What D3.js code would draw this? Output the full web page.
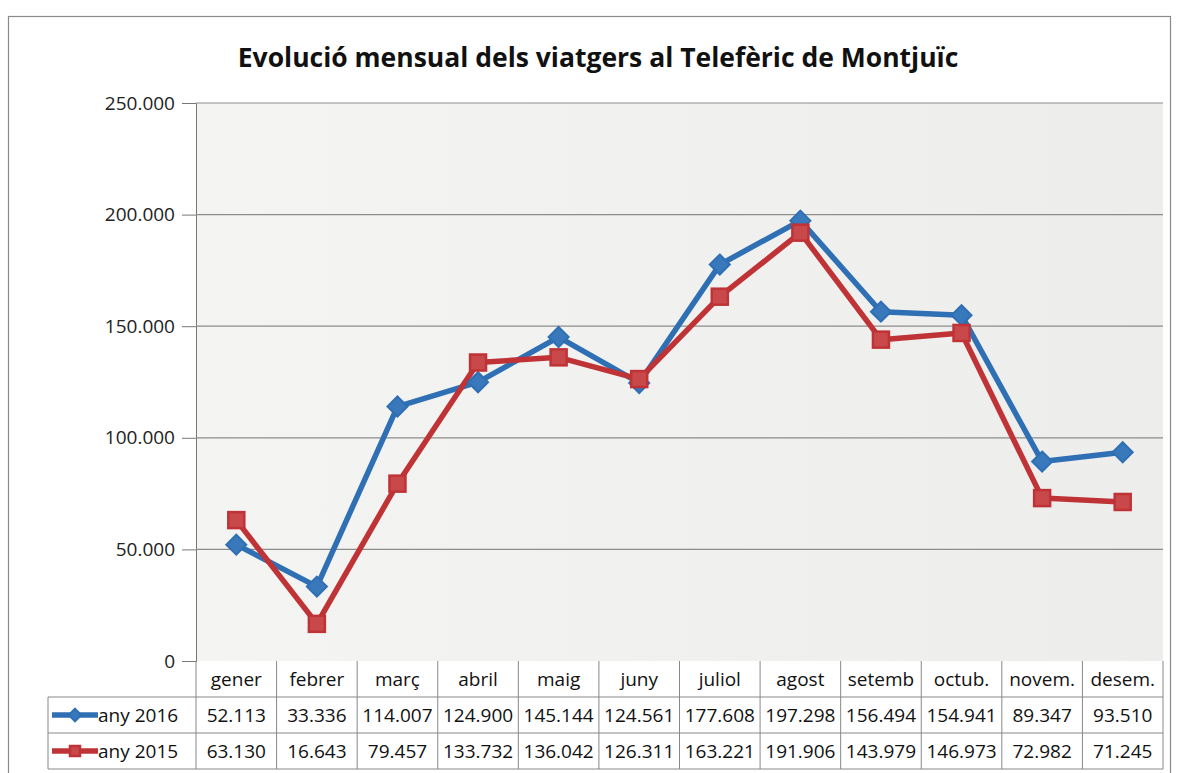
<!DOCTYPE html>
<html>
<head>
<meta charset="utf-8">
<script src="https://cdn.jsdelivr.net/npm/d3@7"></script>
<style>
  body { margin:0; background:#fff; }
  svg { display:block; font-family:'Open Sans','Noto Sans',sans-serif; }
</style>
</head>
<body>
<svg id="chart" width="1177" height="773"></svg>
<script>
'use strict';
const months = ['gener','febrer','març','abril','maig','juny','juliol','agost','setemb','octub.','novem.','desem.'];
const vals2016 = [52113, 33336, 114007, 124900, 145144, 124561, 177608, 197298, 156494, 154941, 89347, 93510];
const vals2015 = [63130, 16643, 79457, 133732, 136042, 126311, 163221, 191906, 143979, 146973, 72982, 71245];
const yTicks = [0, 50000, 100000, 150000, 200000, 250000];
const series = [
  { name:'any 2016', values:vals2016, color:'#2f6fb3', shape:'diamond' },
  { name:'any 2015', values:vals2015, color:'#bf3336', shape:'square' }
];

const m = { left:196, right:1163, top:103, bottom:661 };
const rowH = 36;
const legendLeft = 48;
const svg = d3.select('#chart');
const fmt = v => d3.format(',')(v).replace(/,/g, '.');
const FONT = "'Open Sans','Noto Sans',sans-serif";

// outer frame
svg.append('rect').attr('x',8.5).attr('y',16.5).attr('width',1162).attr('height',770)
  .attr('fill','#fff').attr('stroke','#8a8a8a').attr('stroke-width',1.2);

svg.append('text').attr('x',598).attr('y',67).attr('text-anchor','middle')
  .attr('font-size',26.5).attr('font-weight','bold').attr('fill','#111')
  .text('Evolució mensual dels viatgers al Telefèric de Montjuïc');

const x = d3.scaleBand().domain(months).range([m.left, m.right]);
const y = d3.scaleLinear().domain([0, 250000]).range([m.bottom, m.top]);

// plot background
const defs = svg.append('defs');
const grad = defs.append('linearGradient').attr('id','bg').attr('x1',0).attr('x2',1).attr('y1',0).attr('y2',0);
grad.append('stop').attr('offset','0%').attr('stop-color','#f4f4f2');
grad.append('stop').attr('offset','100%').attr('stop-color','#ededeb');
svg.append('rect').attr('x',m.left).attr('y',m.top).attr('width',m.right-m.left).attr('height',m.bottom-m.top)
  .attr('fill','url(#bg)');

// gridlines + y axis
const yAxis = svg.append('g').attr('transform',`translate(${m.left},0)`)
  .call(d3.axisLeft(y).tickValues(yTicks).tickFormat(fmt).tickSize(14).tickPadding(7));
yAxis.attr('font-family',FONT);
yAxis.select('.domain').attr('stroke','#777');
yAxis.selectAll('.tick line').attr('stroke','#777');
yAxis.selectAll('text').attr('font-size',19).attr('fill','#222');
svg.append('g').selectAll('line').data(yTicks.filter(t => t > 0)).join('line')
  .attr('x1',m.left).attr('x2',m.right).attr('y1',d=>y(d)).attr('y2',d=>y(d))
  .attr('stroke','#8c8c8c').attr('stroke-width',1.2);

// lines and markers
const line = d3.line().x((d,i)=>x(months[i])+x.bandwidth()/2).y(d=>y(d));
series.forEach(s => {
  svg.append('path').datum(s.values).attr('d',line).attr('fill','none')
    .attr('stroke',s.color).attr('stroke-width',5.5).attr('stroke-linejoin','round');
});
function marker(g, s, cx, cy, r) {
  if (s.shape === 'square') {
    g.append('rect').attr('x',cx-r).attr('y',cy-r).attr('width',2*r).attr('height',2*r)
      .attr('fill','#c9494b').attr('stroke',s.color).attr('stroke-width',2.5);
  } else {
    const d = r*1.25;
    g.append('path').attr('d',`M${cx},${cy-d}L${cx+d},${cy}L${cx},${cy+d}L${cx-d},${cy}Z`)
      .attr('fill','#3878bb').attr('stroke',s.color).attr('stroke-width',2);
  }
}
series.forEach(s => {
  const g = svg.append('g');
  s.values.forEach((v,i) => marker(g, s, x(months[i])+x.bandwidth()/2, y(v), 8));
});

// data table
const tbl = svg.append('g').attr('stroke','#888').attr('stroke-width',1);
[1,2,3].forEach(r => {
  tbl.append('line').attr('x1',legendLeft).attr('x2',m.right)
    .attr('y1',m.bottom+r*rowH).attr('y2',m.bottom+r*rowH);
});
tbl.append('line').attr('x1',legendLeft).attr('x2',legendLeft).attr('y1',m.bottom+rowH).attr('y2',m.bottom+3*rowH);
months.forEach(mo => {
  tbl.append('line').attr('x1',x(mo)).attr('x2',x(mo)).attr('y1',m.bottom).attr('y2',m.bottom+3*rowH);
});
tbl.append('line').attr('x1',m.right).attr('x2',m.right).attr('y1',m.bottom).attr('y2',m.bottom+3*rowH);

const txt = svg.append('g').attr('font-size',19).attr('fill','#111').attr('text-anchor','middle');
months.forEach(mo => {
  txt.append('text').attr('x',x(mo)+x.bandwidth()/2).attr('y',m.bottom+25).text(mo);
});
series.forEach((s,r) => {
  const yy = m.bottom + (r+1)*rowH + 25;
  s.values.forEach((v,i) => {
    txt.append('text').attr('x',x(months[i])+x.bandwidth()/2).attr('y',yy).text(fmt(v));
  });
  const ly = m.bottom + (r+1)*rowH + rowH/2;
  svg.append('line').attr('x1',legendLeft+4).attr('x2',legendLeft+50).attr('y1',ly).attr('y2',ly)
    .attr('stroke',s.color).attr('stroke-width',5.5);
  marker(svg, s, legendLeft+27, ly, 5);
  svg.append('text').attr('x',legendLeft+50).attr('y',yy).attr('font-size',19).attr('fill','#111').text(s.name);
});
</script>
</body>
</html>
